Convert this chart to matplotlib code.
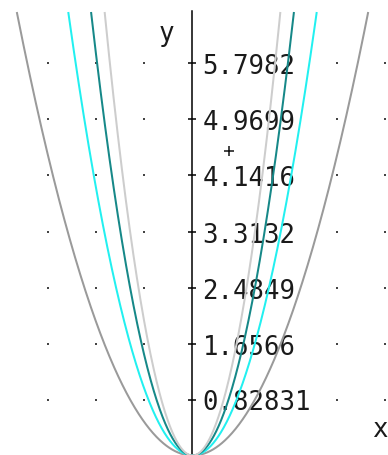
import matplotlib
matplotlib.use("Agg")
import matplotlib.pyplot as plt
import numpy as np

# parabolas y = a*x^2
coeffs = [1, 2, 3, 4]
colors = ["#9a9a9a", "#22f0f0", "#168888", "#cdcdcd"]

# y axis ticks
tick_step = 0.82831
tick_vals = [0.82831, 1.6566, 2.4849, 3.3132, 4.1416, 4.9699, 5.7982]
tick_labels = ["0.82831", "1.6566", "2.4849", "3.3132", "4.1416", "4.9699", "5.7982"]

# dotted grid
grid_x = [-2.1, -1.4, -0.7, 0.7, 1.4, 2.1, 2.8]
grid_y = [0, 0.82831, 1.6566, 2.4849, 3.3132, 4.1416, 4.9699, 5.7982]

# cursor mark
mark_x, mark_y = 0.53, 4.51

y_top = 6.545      # curves drawn up to here
axis_top = 6.575

W, H = 388, 456
px_x = 68.6                 # pixels per x unit
px_y = 56 / tick_step       # pixels per y unit
x0_px, y0_px = 192.5, 456.5

fig = plt.figure(figsize=(W / 100, H / 100), dpi=100)
ax = fig.add_axes([0, 0, 1, 1])
ax.set_xlim(-x0_px / px_x, (W - x0_px) / px_x)
ax.set_ylim((y0_px - H) / px_y, y0_px / px_y)
ax.axis("off")

font = "DejaVu Sans Mono"
fs = 18.5

# grid dots
gx, gy = np.meshgrid(grid_x, grid_y)
ax.plot(gx.ravel(), gy.ravel(), "s", ms=1.8, color="#444444", mew=0,
        zorder=1, clip_on=False)

# tick labels (white background hides dots behind them)
for v, lab in zip(tick_vals, tick_labels):
    ax.annotate(lab, (0, v), xytext=(10, -10), textcoords="offset pixels",
                va="baseline", ha="left", fontsize=fs, family=font,
                color="#1a1a1a", zorder=2,
                bbox=dict(boxstyle="square,pad=0.05", fc="white", ec="none"))

# y axis and ticks
ax.plot([0, 0], [ax.get_ylim()[0], axis_top], color="black", lw=1.1, zorder=3)
ax.plot([0] * len(tick_vals), tick_vals, "_", ms=6, mew=1.1, color="black",
        zorder=3)

# curves
for a, c in zip(coeffs, colors):
    xm = np.sqrt(y_top / a)
    x = np.linspace(-xm, xm, 600)
    ax.plot(x, a * x ** 2, color=c, lw=1.45, zorder=4)

ax.plot([mark_x], [mark_y], "+", ms=7.5, mew=1.1, color="#111111", zorder=5)

ax.annotate("y", (0, axis_top), xytext=(-26, -29), textcoords="offset pixels",
            va="baseline", ha="center", fontsize=fs, family=font,
            color="#1a1a1a", annotation_clip=False)
ax.annotate("x", (ax.get_xlim()[1], 0), xytext=(-8, 19), textcoords="offset pixels",
            va="baseline", ha="center", fontsize=fs, family=font,
            color="#1a1a1a", annotation_clip=False)

fig.savefig("out.png", dpi=100)
